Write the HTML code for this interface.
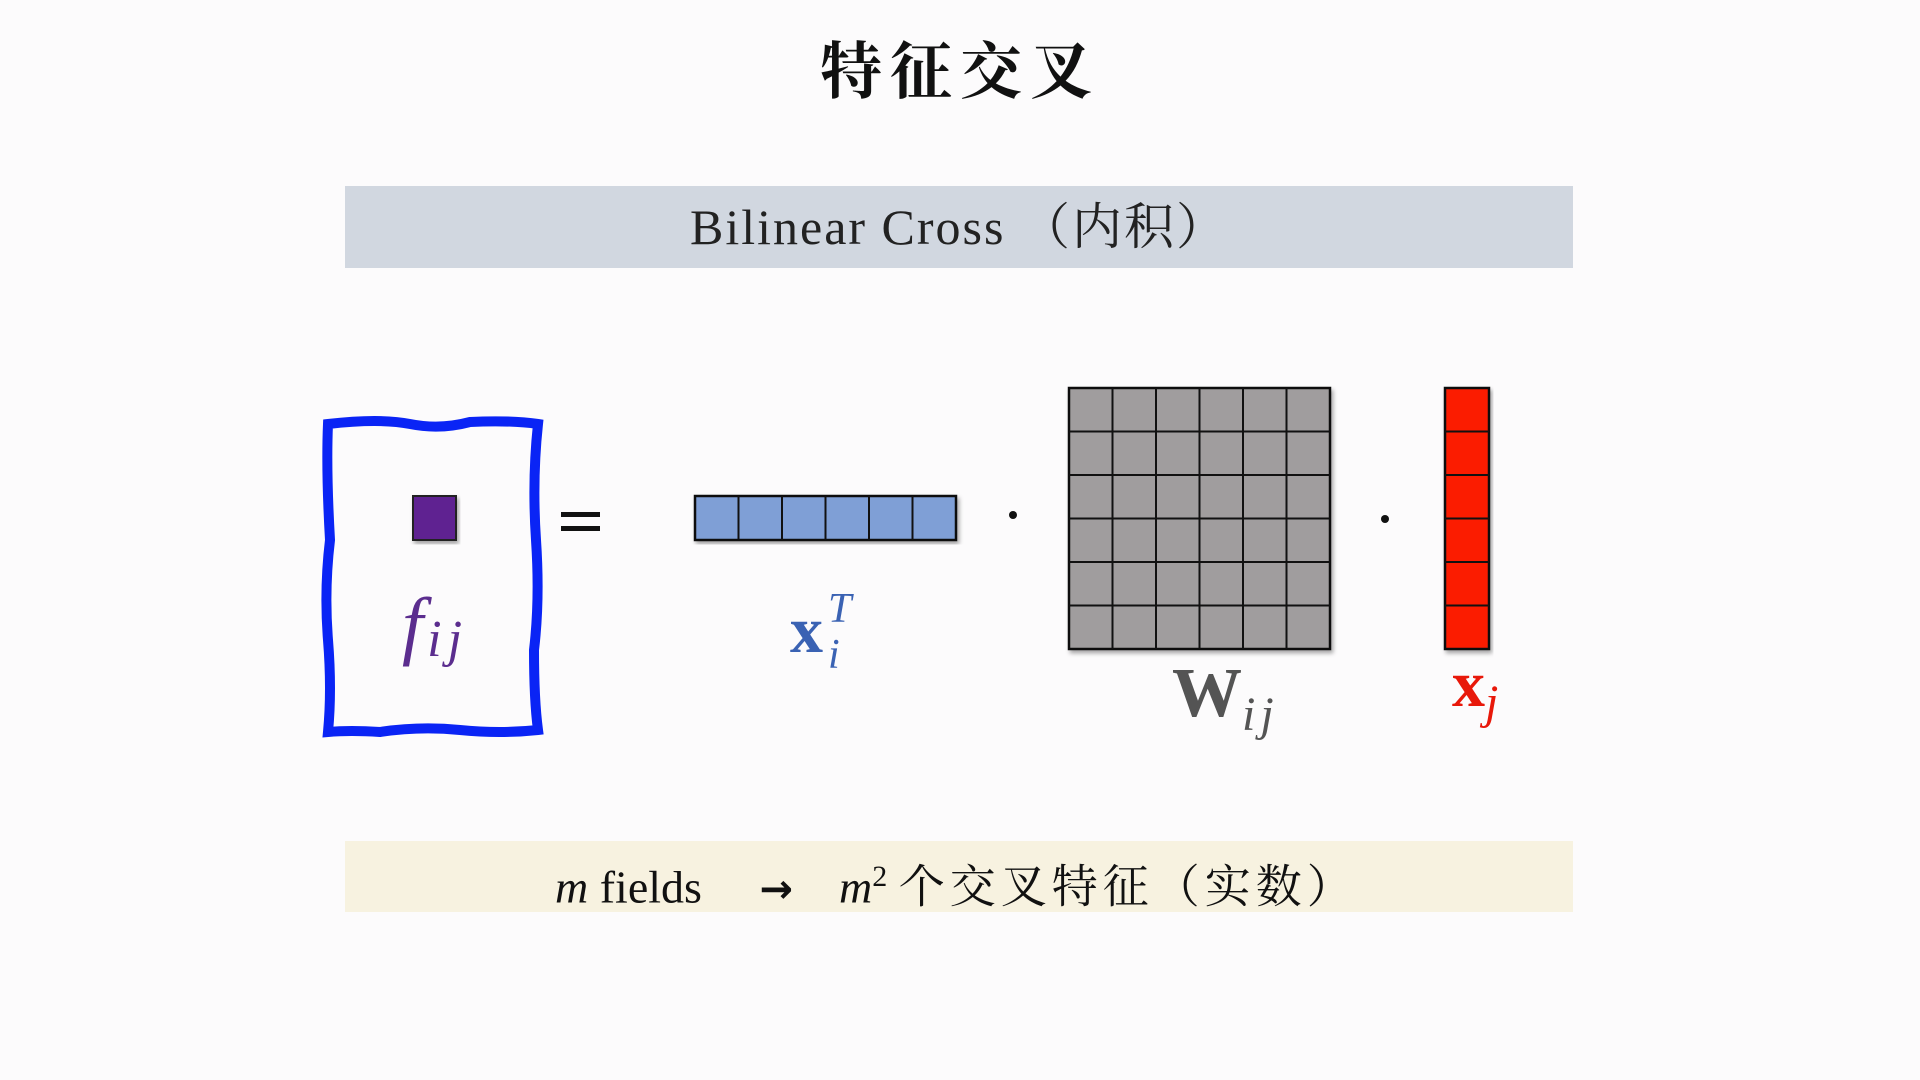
<!DOCTYPE html>
<html><head><meta charset="utf-8"><style>
html,body{margin:0;padding:0;}
body{width:1920px;height:1080px;background:#fcfbfc;position:relative;overflow:hidden;font-family:"Liberation Serif","Noto Serif CJK SC",serif;}
.a{position:absolute;white-space:nowrap;}
</style></head><body>
<div class="a" style="left:0;width:1920px;top:22px;text-align:center;font-size:62px;font-weight:bold;font-family:'Noto Serif CJK SC',serif;letter-spacing:8px;color:#111;">特征交叉</div>
<div class="a" style="left:345px;top:186px;width:1228px;height:82px;background:#d1d7e0;"></div>
<div class="a" style="left:345px;top:186px;width:1228px;height:82px;line-height:82px;text-align:center;font-size:50px;letter-spacing:2px;color:#222;">Bilinear Cross （内积）</div>
<div class="a" style="left:345px;top:841px;width:1228px;height:71px;background:#f7f2e0;"></div>
<div class="a" style="left:555px;top:841px;height:71px;line-height:71px;font-size:46px;color:#111;"><i>m</i> fields &nbsp;&nbsp;&nbsp; <b style="font-family:'DejaVu Sans';font-size:40px;">→</b> &nbsp;&nbsp;&nbsp;<i>m</i><sup style="font-size:30px;">2</sup> <span style="letter-spacing:5px;">个交叉特征（实数）</span></div>
<svg class="a" style="left:0;top:0" width="1920" height="1080">
<defs><filter id="s"><feDropShadow dx="2" dy="3" stdDeviation="2" flood-opacity="0.35"/></filter></defs>
<path d="M328 424 Q380 418 410 424 T470 422 Q510 420 538 424 Q532 480 536 540 T534 650 Q534 700 538 730 Q500 734 460 730 T380 732 Q350 730 328 732 Q332 690 328 640 T330 540 Q326 470 328 424Z" fill="none" stroke="#0a24f5" stroke-width="10"/>
<rect x="413" y="496" width="43" height="44" fill="#5e2391" stroke="#222" stroke-width="2" filter="url(#s)"/>
<rect x="561" y="512" width="39" height="5" fill="#111"/><rect x="561" y="526" width="39" height="5" fill="#111"/>
<g filter="url(#s)">
<rect x="695" y="496" width="261" height="44" fill="#7f9fd6" stroke="#111" stroke-width="2.5"/>
</g>
<g stroke="#111" stroke-width="2">
<line x1="738.5" y1="496" x2="738.5" y2="540"/><line x1="782" y1="496" x2="782" y2="540"/><line x1="825.5" y1="496" x2="825.5" y2="540"/><line x1="869" y1="496" x2="869" y2="540"/><line x1="912.5" y1="496" x2="912.5" y2="540"/>
</g>
<circle cx="1013" cy="515" r="4" fill="#111"/>
<rect x="1069" y="388" width="261" height="261" fill="#a09d9e" stroke="#111" stroke-width="2.5" filter="url(#s)"/>
<g stroke="#111" stroke-width="2">
<line x1="1112.5" y1="388" x2="1112.5" y2="649"/><line x1="1156" y1="388" x2="1156" y2="649"/><line x1="1199.5" y1="388" x2="1199.5" y2="649"/><line x1="1243" y1="388" x2="1243" y2="649"/><line x1="1286.5" y1="388" x2="1286.5" y2="649"/>
<line x1="1069" y1="431.5" x2="1330" y2="431.5"/><line x1="1069" y1="475" x2="1330" y2="475"/><line x1="1069" y1="518.5" x2="1330" y2="518.5"/><line x1="1069" y1="562" x2="1330" y2="562"/><line x1="1069" y1="605.5" x2="1330" y2="605.5"/>
</g>
<circle cx="1385" cy="519" r="4" fill="#111"/>
<rect x="1445" y="388" width="44" height="261" fill="#fb1b05" stroke="#111" stroke-width="2.5" filter="url(#s)"/>
<g stroke="#111" stroke-width="2">
<line x1="1445" y1="431.5" x2="1489" y2="431.5"/><line x1="1445" y1="475" x2="1489" y2="475"/><line x1="1445" y1="518.5" x2="1489" y2="518.5"/><line x1="1445" y1="562" x2="1489" y2="562"/><line x1="1445" y1="605.5" x2="1489" y2="605.5"/>
</g>
<text x="402" y="650" font-family="Liberation Serif" font-style="italic" font-size="76" fill="#5b2d8e">f<tspan font-size="52" dy="6" dx="4" letter-spacing="6">ij</tspan></text>
<text x="790" y="652" font-family="Liberation Serif" font-weight="bold" font-size="66" fill="#3a62b3">x</text>
<text x="828" y="622" font-family="Liberation Serif" font-style="italic" font-size="42" fill="#3a62b3">T</text>
<text x="828" y="668" font-family="Liberation Serif" font-style="italic" font-size="42" fill="#3a62b3">i</text>
<text x="1172" y="716" font-family="Liberation Serif" font-weight="bold" font-size="70" fill="#545454">W<tspan font-weight="normal" font-style="italic" font-size="48" dy="14" letter-spacing="5">ij</tspan></text>
<text x="1452" y="706" font-family="Liberation Serif" font-weight="bold" font-size="66" fill="#e8180a">x<tspan font-weight="normal" font-style="italic" font-size="48" dy="12">j</tspan></text>
</svg>
</body></html>
